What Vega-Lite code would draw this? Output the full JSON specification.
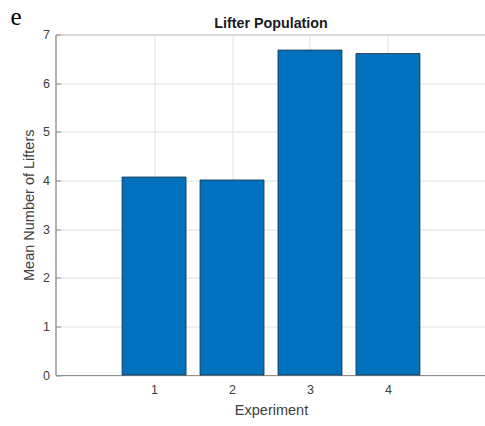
{
  "$schema": "https://vega.github.io/schema/vega-lite/v6.json",
  "autosize": {"type": "pad"},
  "padding": {"left": 10.5, "top": 4.5, "right": 0, "bottom": 0},
  "background": "white",
  "title": {
    "text": "e",
    "anchor": "start",
    "frame": "bounds",
    "font": "Liberation Serif",
    "fontSize": 25,
    "fontWeight": "normal",
    "color": "black",
    "offset": -13.5,
    "dx": -10
  },
  "config": {
    "view": {"stroke": "#a6a6a6", "strokeWidth": 1},
    "font": "Liberation Sans",
    "axis": {
      "labelFont": "Liberation Sans",
      "labelFontSize": 12.5,
      "labelColor": "#404040",
      "titleFont": "Liberation Sans",
      "titleFontSize": 14.5,
      "titleFontWeight": "normal",
      "titleColor": "#404040",
      "gridColor": "#e0e0e0",
      "gridWidth": 1,
      "domainColor": "#8f8f8f",
      "ticks": true,
      "tickSize": -5,
      "tickColor": "#8f8f8f"
    }
  },
  "vconcat": [
    {
      "title": {
        "text": "Lifter Population",
        "anchor": "middle",
        "frame": "group",
        "font": "Liberation Sans",
        "fontSize": 14.3,
        "fontWeight": "bold",
        "color": "#1a1a1a",
        "offset": -3
      },
      "width": 431,
      "height": 340.5,
      "data": {
        "values": [
          {"experiment": 1, "mean_lifters": 4.07},
          {"experiment": 2, "mean_lifters": 4.01},
          {"experiment": 3, "mean_lifters": 6.68},
          {"experiment": 4, "mean_lifters": 6.61}
        ]
      },
      "mark": {"type": "bar", "width": 64, "color": "#0072BD", "stroke": "#1f2f3f", "strokeWidth": 0.8},
      "encoding": {
        "x": {
          "field": "experiment",
          "type": "quantitative",
          "scale": {"domain": [-0.2, 5.2], "nice": false, "zero": false},
          "axis": {"values": [1, 2, 3, 4], "format": "d", "title": "Experiment", "labelPadding": 13, "titlePadding": 8, "labelFlush": false}
        },
        "y": {
          "field": "mean_lifters",
          "type": "quantitative",
          "scale": {"domain": [0, 7], "nice": false},
          "axis": {"values": [0, 1, 2, 3, 4, 5, 6, 7], "title": "Mean Number of Lifters", "labelPadding": 11, "titlePadding": 6.5}
        }
      }
    }
  ]
}
